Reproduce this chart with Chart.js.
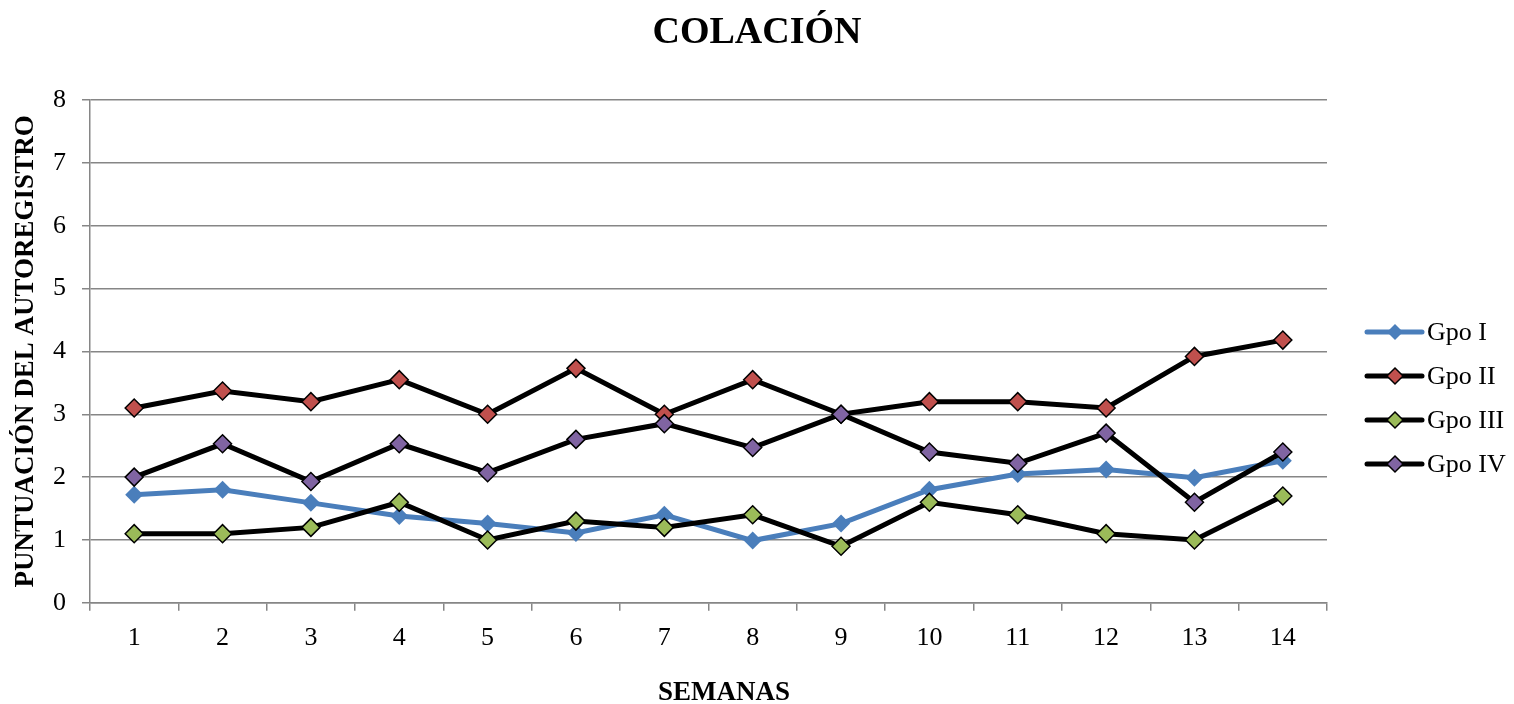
<!DOCTYPE html>
<html>
<head>
<meta charset="utf-8">
<script src="https://cdn.jsdelivr.net/npm/chart.js@4/dist/chart.umd.min.js"></script>
<style>
  html, body { margin: 0; padding: 0; background: #fff; }
  #wrap { width: 1514px; height: 704px; }
</style>
</head>
<body>
<div id="wrap"><canvas id="chart"></canvas></div>
<script>
var semanas = ["1", "2", "3", "4", "5", "6", "7", "8", "9", "10", "11", "12", "13", "14"];
var gpoI = [1.72, 1.8, 1.59, 1.38, 1.26, 1.11, 1.4, 0.99, 1.26, 1.8, 2.05, 2.12, 1.99, 2.26];
var gpoII = [3.1, 3.37, 3.2, 3.55, 3.0, 3.73, 3.0, 3.55, 3.0, 3.2, 3.2, 3.1, 3.92, 4.18];
var gpoIII = [1.1, 1.1, 1.2, 1.6, 1.0, 1.3, 1.2, 1.4, 0.9, 1.6, 1.4, 1.1, 1.0, 1.7];
var gpoIV = [2.0, 2.53, 1.93, 2.53, 2.07, 2.6, 2.85, 2.47, 3.0, 2.4, 2.22, 2.7, 1.6, 2.4];

var titulo = "COLACIÓN";
var tituloX = "SEMANAS";
var tituloY = "PUNTUACIÓN DEL AUTOREGISTRO";

var serif = "'Liberation Serif', 'Times New Roman', serif";

function serie(label, data, line, fill, border, order) {
  return {
    label: label,
    data: data,
    borderColor: line,
    borderWidth: 5,
    pointStyle: "rectRot",
    pointRadius: 9,
    pointHoverRadius: 9,
    pointBackgroundColor: fill,
    pointBorderColor: border || fill,
    pointBorderWidth: border ? 1.5 : 0,
    tension: 0,
    order: order,
  };
}

// titulos (centrados como en excel) + leyenda con linea y rombo
var extras = {
  id: "extras",
  afterDraw: function (chart) {
    var ctx = chart.ctx;
    ctx.save();
    ctx.fillStyle = "#000";
    ctx.textAlign = "center";
    ctx.textBaseline = "alphabetic";
    ctx.font = "bold 38px " + serif;
    ctx.fillText(titulo, 757, 43);
    ctx.font = "bold 27px " + serif;
    ctx.fillText(tituloX, 724, 700);
    ctx.restore();

    var x0 = chart.chartArea.right + 40;
    var y0 = 332;
    chart.data.datasets.forEach(function (ds, i) {
      var y = y0 + i * 44;
      ctx.save();
      ctx.strokeStyle = ds.borderColor;
      ctx.lineWidth = 5;
      ctx.lineCap = "round";
      ctx.beginPath();
      ctx.moveTo(x0, y);
      ctx.lineTo(x0 + 55, y);
      ctx.stroke();
      ctx.beginPath();
      ctx.moveTo(x0 + 28, y - 8);
      ctx.lineTo(x0 + 36, y);
      ctx.lineTo(x0 + 28, y + 8);
      ctx.lineTo(x0 + 20, y);
      ctx.closePath();
      ctx.fillStyle = ds.pointBackgroundColor;
      ctx.fill();
      if (ds.pointBorderWidth) {
        ctx.lineWidth = 1.5;
        ctx.strokeStyle = ds.pointBorderColor;
        ctx.stroke();
      }
      ctx.fillStyle = "#000";
      ctx.font = "26px " + serif;
      ctx.textBaseline = "middle";
      ctx.fillText(ds.label, x0 + 60, y + 1);
      ctx.restore();
    });
  },
};

var ctx = document.getElementById("chart").getContext("2d");
var chart = new Chart(ctx, {
  type: "line",
  data: {
    labels: semanas,
    datasets: [
      serie("Gpo I", gpoI, "#4a7ebb", "#4a7ebb", null, 3),
      serie("Gpo II", gpoII, "#000000", "#c0504d", "#000000", 2),
      serie("Gpo III", gpoIII, "#000000", "#9bbb59", "#000000", 1),
      serie("Gpo IV", gpoIV, "#000000", "#8064a2", "#000000", 0),
    ],
  },
  options: {
    responsive: true,
    maintainAspectRatio: false,
    animation: false,
    layout: { padding: { top: 100, right: 187, bottom: 38, left: 0 } },
    plugins: {
      legend: { display: false },
      tooltip: { enabled: false },
      title: { display: false },
    },
    scales: {
      x: {
        offset: true,
        grid: {
          offset: true,
          drawOnChartArea: false,
          tickLength: 8,
          color: "#868686",
          lineWidth: 1.5,
        },
        border: { color: "#868686", width: 1.5 },
        ticks: {
          color: "#000",
          font: { family: serif, size: 26 },
          padding: 12,
          maxRotation: 0,
        },
      },
      y: {
        min: 0,
        max: 8,
        afterFit: function (scale) {
          scale.width = 90;
        },
        ticks: {
          stepSize: 1,
          color: "#000",
          font: { family: serif, size: 26 },
          padding: 16,
        },
        grid: { color: "#868686", lineWidth: 1.5, tickLength: 8 },
        border: { color: "#868686", width: 1.5 },
        title: {
          display: true,
          text: tituloY,
          color: "#000",
          font: { family: serif, size: 27, weight: "bold" },
          padding: { top: 10, bottom: 12 },
        },
      },
    },
  },
  plugins: [extras],
});
</script>
</body>
</html>
